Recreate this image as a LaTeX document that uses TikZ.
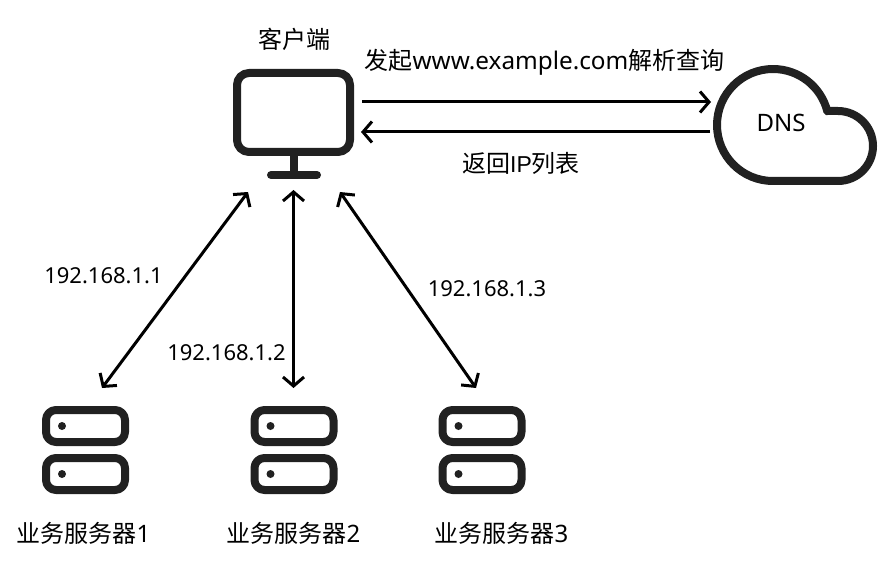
\documentclass[tikz,border=0pt]{standalone}
\usepackage{fontspec}
\usepackage{tikz}
\usetikzlibrary{arrows.meta,calc}
\setmainfont{Noto Sans}
\newfontfamily\cjk{Noto Sans CJK SC}
\newfontfamily\plainsans{Liberation Sans}
\definecolor{iconcol}{HTML}{212121}
\newcommand{\fs}[1]{\fontsize{#1}{#1}\selectfont}
\tikzset{
  icon/.style={draw=iconcol, line width=8pt, line cap=round, line join=round},
  link/.style={line width=3pt, {Straight Barb[length=9pt,width=21pt,line width=3pt]}-{Straight Barb[length=9pt,width=21pt,line width=3pt]}},
  oneway/.style={line width=3pt, -{Straight Barb[length=9pt,width=21pt,line width=3pt]}},
  lbl/.style={inner sep=0pt, font=\fs{24}\cjk},
  ip/.style={inner sep=0pt, font=\fs{22}}
}
\begin{document}
\begin{tikzpicture}[x=1pt,y=-1pt]
  \useasboundingbox (0,0) rectangle (896,572);

  % client
  \node[icon, fill=white, rounded corners=12pt, minimum width=113pt, minimum height=79pt, inner sep=0pt, outer sep=0pt] (client) at (293.5,112.5) {};
  \draw[icon, line cap=butt] (client.south) -- (293.5,175);
  \draw[icon] (271,175) -- (317,175);
  \node[lbl] (clientlbl) at (294,39) {客户端};

  % DNS
  \draw[icon] (828,111) -- (838,111) arc (-90:90:35) -- (773,181) arc (90:270:56) arc (-90:-14:56) -- cycle;
  \node[inner sep=0pt, font=\fs{24}] (dns) at (781,123) {DNS};

  % servers
  \foreach \i/\cx/\tx in {1/85.5/83.5, 2/294/293.5, 3/482/501.5} {
    \node[icon, rounded corners=10pt, minimum width=79pt, minimum height=32pt, inner sep=0pt, outer sep=0pt] (srv\i a) at (\cx,426) {};
    \node[icon, rounded corners=10pt, minimum width=79pt, minimum height=32pt, inner sep=0pt, outer sep=0pt] (srv\i b) at (\cx,474) {};
    \fill[iconcol] ($(\cx,426)+(-23.5,0)$) circle (4pt);
    \fill[iconcol] ($(\cx,474)+(-23.5,0)$) circle (4pt);
    \node[lbl] (srv\i lbl) at (\tx,533) {业务服务器\fontspec{Noto Sans}\i};
  }

  % ends of the connectors
  \coordinate (c1) at (248,192);
  \coordinate (c2) at (293.5,190);
  \coordinate (c3) at (340,192);
  \coordinate (s1) at (102,388);
  \coordinate (s2) at (293.5,388);
  \coordinate (s3) at (476,388);
  \coordinate (qa) at (362,102);
  \coordinate (qb) at (711,102);
  \coordinate (ra) at (710,132);
  \coordinate (rb) at (361,132);

  \draw[link] (c1) -- (s1);
  \draw[link] (c2) -- (s2);
  \draw[link] (c3) -- (s3);
  \draw[oneway] (qa) -- (qb);
  \draw[oneway] (ra) -- (rb);

  % labels
  \node[lbl] (query) at (544.5,62) {发起{\fontspec{Noto Sans}\fs{24.3}www.example.com}解析查询};
  \node[lbl] (reply) at (521,163) {返回{\plainsans\fs{23}IP}列表};
  \node[ip] (ip1) at (103.5,276) {192.168.1.1};
  \node[ip] (ip2) at (226.5,353) {192.168.1.2};
  \node[ip] (ip3) at (487,289) {192.168.1.3};
\end{tikzpicture}
\end{document}
